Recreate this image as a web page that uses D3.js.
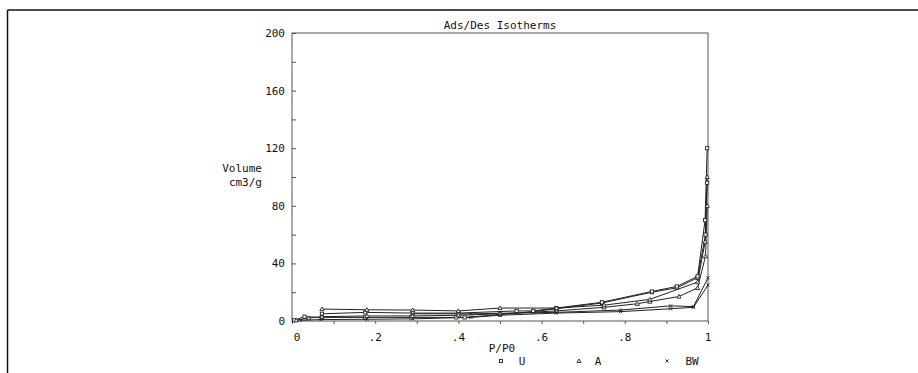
<!DOCTYPE html>
<html><head><meta charset="utf-8">
<script src="https://cdn.jsdelivr.net/npm/d3@7"></script>
<style>body{margin:0;background:#fff}svg{display:block}text{font-family:"DejaVu Sans Mono",monospace;fill:#111}</style>
</head><body><svg id="c" width="918" height="373"></svg>
<script>
const title = "Ads/Des Isotherms";
const xTicks = [0, 0.2, 0.4, 0.6, 0.8, 1];
const xTickLabels = ["0", ".2", ".4", ".6", ".8", "1"];
const yTicks = [0, 40, 80, 120, 160, 200];
const yTickLabels = ["0", "40", "80", "120", "160", "200"];
const seriesNames = ["U", "A", "BW"];
const seriesMarkers = ["square", "triangle", "cross"];

const U_adsP = [0.005, 0.03, 0.072, 0.176, 0.287, 0.395, 0.415, 0.5, 0.58, 0.635, 0.745, 0.865, 0.925, 0.975, 0.994, 0.998];
const U_adsV = [0.5, 3, 2.5, 2.5, 2.5, 2.5, 2.5, 4.5, 6.5, 8.5, 12.5, 20, 23, 30, 60, 96];
const U_desP = [0.998, 0.993, 0.975, 0.925, 0.865, 0.745, 0.635, 0.58, 0.54, 0.4, 0.29, 0.176, 0.072];
const U_desV = [120, 70, 31, 24, 20.5, 13, 9, 7, 7, 5.5, 5.5, 6, 5];
const A_adsP = [0.01, 0.04, 0.072, 0.18, 0.29, 0.4, 0.5, 0.636, 0.75, 0.83, 0.86, 0.93, 0.975, 0.994, 0.998];
const A_adsV = [0.5, 2, 3, 3.5, 3.5, 4, 5, 7, 9.5, 12, 13.5, 17, 23, 45, 80];
const A_desP = [0.998, 0.993, 0.975, 0.86, 0.75, 0.636, 0.5, 0.4, 0.29, 0.18, 0.072];
const A_desV = [100, 55, 27, 15, 11, 9, 9, 7, 7.6, 7.8, 8.3];
const BW_adsP = [0.02, 0.07, 0.18, 0.29, 0.43, 0.5, 0.635, 0.79, 0.91, 0.965, 1.0];
const BW_adsV = [0.5, 1, 1.2, 1.5, 2.5, 4, 5.5, 6.5, 8.5, 9.5, 25];
const BW_desP = [1.0, 0.965, 0.91, 0.79, 0.635, 0.43, 0.29];
const BW_desV = [30, 10, 10.5, 7.6, 6, 5, 5];

const curves = [
  {m: "square", P: U_adsP, V: U_adsV}, {m: "square", P: U_desP, V: U_desV},
  {m: "triangle", P: A_adsP, V: A_adsV}, {m: "triangle", P: A_desP, V: A_desV},
  {m: "cross", P: BW_adsP, V: BW_adsV}, {m: "cross", P: BW_desP, V: BW_desV}
];

const svg = d3.select("#c");
svg.append("line").attr("x1", 7.5).attr("x2", 918).attr("y1", 10).attr("y2", 10).attr("stroke", "#111").attr("stroke-width", 1.5);
svg.append("line").attr("x1", 7.5).attr("x2", 7.5).attr("y1", 10).attr("y2", 373).attr("stroke", "#111").attr("stroke-width", 1.5);

const L = 292, R = 708, T = 33, B = 321;
const x = d3.scaleLinear().domain([0, 1]).range([L, R]);
const y = d3.scaleLinear().domain([0, 200]).range([B, T]);

svg.append("rect").attr("x", L).attr("y", T).attr("width", R - L).attr("height", B - T)
  .attr("fill", "none").attr("stroke", "#555").attr("stroke-width", 1);

const yAx = d3.axisRight(y).tickValues(d3.range(0, 201, 20)).tickSize(4).tickFormat("");
const gy = svg.append("g").attr("transform", `translate(${L},0)`).call(yAx);
gy.select(".domain").remove();
gy.selectAll("line").attr("stroke", "#555");
svg.append("g").selectAll("text").data(yTicks).join("text")
  .attr("x", 285).attr("y", d => y(d) + 4).attr("text-anchor", "end").attr("font-size", 11)
  .text((d, i) => yTickLabels[i]);

const xAx = d3.axisBottom(x).tickValues(d3.range(0, 1.001, 0.1)).tickSize(3).tickFormat("");
const gx = svg.append("g").attr("transform", `translate(0,${B})`).call(xAx);
gx.select(".domain").remove();
gx.selectAll("line").attr("stroke", "#555");
svg.append("g").selectAll("text").data(xTicks).join("text")
  .attr("x", (d, i) => x(d) + (i === 0 ? 5 : 0)).attr("y", 341).attr("text-anchor", "middle").attr("font-size", 11)
  .text((d, i) => xTickLabels[i]);

svg.append("text").attr("x", 500).attr("y", 29).attr("text-anchor", "middle").attr("font-size", 11).text(title);
svg.append("text").attr("x", 502).attr("y", 352).attr("text-anchor", "middle").attr("font-size", 11).text("P/P0");
svg.append("text").attr("x", 262).attr("y", 172).attr("text-anchor", "end").attr("font-size", 11).text("Volume");
svg.append("text").attr("x", 262).attr("y", 186).attr("text-anchor", "end").attr("font-size", 11).text("cm3/g");

function marker(g, type, cx, cy, s) {
  if (type === "square") g.append("rect").attr("x", cx - s).attr("y", cy - s).attr("width", 2 * s).attr("height", 2 * s).attr("fill", "#fff").attr("stroke", "#222").attr("stroke-width", 0.9);
  else if (type === "triangle") g.append("path").attr("d", `M${cx},${cy - s - 0.5}L${cx + s + 0.5},${cy + s}L${cx - s - 0.5},${cy + s}Z`).attr("fill", "#fff").attr("stroke", "#222").attr("stroke-width", 0.9);
  else g.append("path").attr("d", `M${cx - s},${cy - s}L${cx + s},${cy + s}M${cx - s},${cy + s}L${cx + s},${cy - s}`).attr("stroke", "#222").attr("stroke-width", 0.9);
}

const line = d3.line().x(d => x(d[0])).y(d => y(d[1]));
const plot = svg.append("g");
curves.forEach(c => {
  const pts = c.P.map((p, i) => [p, c.V[i]]);
  plot.append("path").attr("d", line(pts)).attr("fill", "none").attr("stroke", "#222").attr("stroke-width", 1);
});
curves.forEach(c => {
  c.P.forEach((p, i) => marker(plot, c.m, x(p), y(c.V[i]), 1.6));
});

const legX = [[501, 522], [579, 598], [667, 692]];
seriesNames.forEach((n, i) => {
  marker(svg, seriesMarkers[i], legX[i][0], 361, 1.5);
  svg.append("text").attr("x", legX[i][1]).attr("y", 365).attr("text-anchor", "middle").attr("font-size", 11).text(n);
});
</script></body></html>
